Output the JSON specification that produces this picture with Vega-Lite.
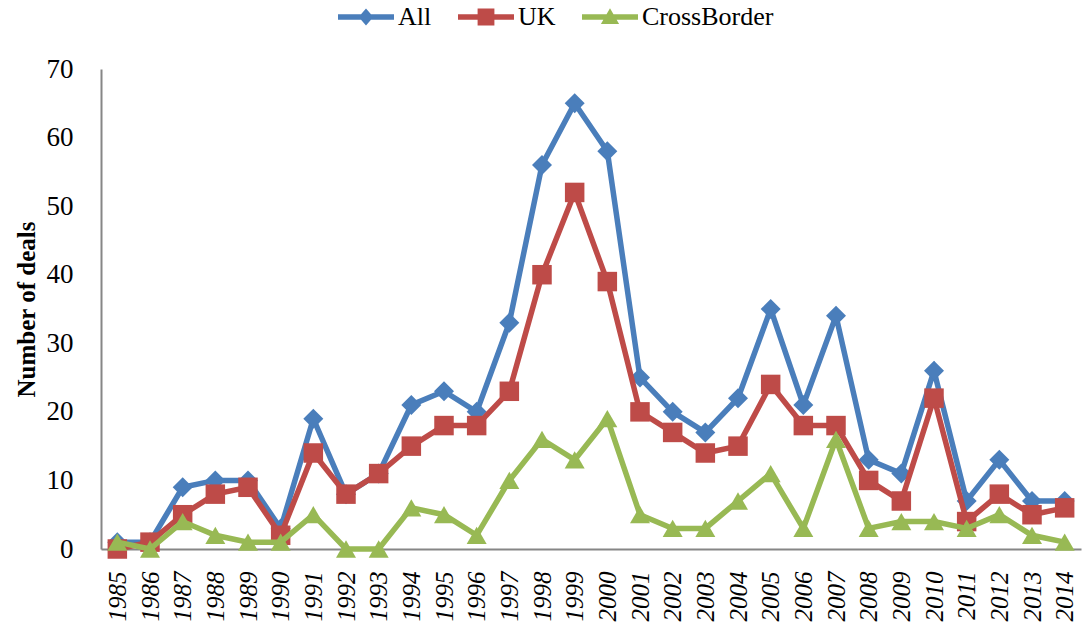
{
  "$schema": "https://vega.github.io/schema/vega-lite/v6.json",
  "width": 1091,
  "height": 631,
  "autosize": {"type": "fit", "contains": "padding"},
  "padding": {"left": 14, "top": 55, "right": 0, "bottom": 10},
  "background": "white",
  "config": {
    "view": {"stroke": null},
    "font": "Liberation Serif",
    "axis": {"grid": false, "ticks": false, "domainColor": "#868686", "domainWidth": 2, "labelFont": "Liberation Serif", "labelColor": "#000000", "titleFont": "Liberation Serif", "titleColor": "#000000"}
  },
  "data": {
    "values": [
      {"year": "1985", "series": "All", "deals": 1}, {"year": "1986", "series": "All", "deals": 1}, {"year": "1987", "series": "All", "deals": 9}, {"year": "1988", "series": "All", "deals": 10}, {"year": "1989", "series": "All", "deals": 10}, {"year": "1990", "series": "All", "deals": 3}, {"year": "1991", "series": "All", "deals": 19}, {"year": "1992", "series": "All", "deals": 8}, {"year": "1993", "series": "All", "deals": 11}, {"year": "1994", "series": "All", "deals": 21}, {"year": "1995", "series": "All", "deals": 23}, {"year": "1996", "series": "All", "deals": 20}, {"year": "1997", "series": "All", "deals": 33}, {"year": "1998", "series": "All", "deals": 56}, {"year": "1999", "series": "All", "deals": 65}, {"year": "2000", "series": "All", "deals": 58}, {"year": "2001", "series": "All", "deals": 25}, {"year": "2002", "series": "All", "deals": 20}, {"year": "2003", "series": "All", "deals": 17}, {"year": "2004", "series": "All", "deals": 22}, {"year": "2005", "series": "All", "deals": 35}, {"year": "2006", "series": "All", "deals": 21}, {"year": "2007", "series": "All", "deals": 34}, {"year": "2008", "series": "All", "deals": 13}, {"year": "2009", "series": "All", "deals": 11}, {"year": "2010", "series": "All", "deals": 26}, {"year": "2011", "series": "All", "deals": 7}, {"year": "2012", "series": "All", "deals": 13}, {"year": "2013", "series": "All", "deals": 7}, {"year": "2014", "series": "All", "deals": 7},
      {"year": "1985", "series": "UK", "deals": 0}, {"year": "1986", "series": "UK", "deals": 1}, {"year": "1987", "series": "UK", "deals": 5}, {"year": "1988", "series": "UK", "deals": 8}, {"year": "1989", "series": "UK", "deals": 9}, {"year": "1990", "series": "UK", "deals": 2}, {"year": "1991", "series": "UK", "deals": 14}, {"year": "1992", "series": "UK", "deals": 8}, {"year": "1993", "series": "UK", "deals": 11}, {"year": "1994", "series": "UK", "deals": 15}, {"year": "1995", "series": "UK", "deals": 18}, {"year": "1996", "series": "UK", "deals": 18}, {"year": "1997", "series": "UK", "deals": 23}, {"year": "1998", "series": "UK", "deals": 40}, {"year": "1999", "series": "UK", "deals": 52}, {"year": "2000", "series": "UK", "deals": 39}, {"year": "2001", "series": "UK", "deals": 20}, {"year": "2002", "series": "UK", "deals": 17}, {"year": "2003", "series": "UK", "deals": 14}, {"year": "2004", "series": "UK", "deals": 15}, {"year": "2005", "series": "UK", "deals": 24}, {"year": "2006", "series": "UK", "deals": 18}, {"year": "2007", "series": "UK", "deals": 18}, {"year": "2008", "series": "UK", "deals": 10}, {"year": "2009", "series": "UK", "deals": 7}, {"year": "2010", "series": "UK", "deals": 22}, {"year": "2011", "series": "UK", "deals": 4}, {"year": "2012", "series": "UK", "deals": 8}, {"year": "2013", "series": "UK", "deals": 5}, {"year": "2014", "series": "UK", "deals": 6},
      {"year": "1985", "series": "CrossBorder", "deals": 1}, {"year": "1986", "series": "CrossBorder", "deals": 0}, {"year": "1987", "series": "CrossBorder", "deals": 4}, {"year": "1988", "series": "CrossBorder", "deals": 2}, {"year": "1989", "series": "CrossBorder", "deals": 1}, {"year": "1990", "series": "CrossBorder", "deals": 1}, {"year": "1991", "series": "CrossBorder", "deals": 5}, {"year": "1992", "series": "CrossBorder", "deals": 0}, {"year": "1993", "series": "CrossBorder", "deals": 0}, {"year": "1994", "series": "CrossBorder", "deals": 6}, {"year": "1995", "series": "CrossBorder", "deals": 5}, {"year": "1996", "series": "CrossBorder", "deals": 2}, {"year": "1997", "series": "CrossBorder", "deals": 10}, {"year": "1998", "series": "CrossBorder", "deals": 16}, {"year": "1999", "series": "CrossBorder", "deals": 13}, {"year": "2000", "series": "CrossBorder", "deals": 19}, {"year": "2001", "series": "CrossBorder", "deals": 5}, {"year": "2002", "series": "CrossBorder", "deals": 3}, {"year": "2003", "series": "CrossBorder", "deals": 3}, {"year": "2004", "series": "CrossBorder", "deals": 7}, {"year": "2005", "series": "CrossBorder", "deals": 11}, {"year": "2006", "series": "CrossBorder", "deals": 3}, {"year": "2007", "series": "CrossBorder", "deals": 16}, {"year": "2008", "series": "CrossBorder", "deals": 3}, {"year": "2009", "series": "CrossBorder", "deals": 4}, {"year": "2010", "series": "CrossBorder", "deals": 4}, {"year": "2011", "series": "CrossBorder", "deals": 3}, {"year": "2012", "series": "CrossBorder", "deals": 5}, {"year": "2013", "series": "CrossBorder", "deals": 2}, {"year": "2014", "series": "CrossBorder", "deals": 1}
    ]
  },
  "encoding": {
    "x": {"field": "year", "type": "ordinal", "title": null,
      "scale": {"type": "point", "padding": 0.5},
      "axis": {"labelAngle": -90, "labelFontStyle": "italic", "labelFontSize": 25, "labelPadding": 22}},
    "y": {"field": "deals", "type": "quantitative", "title": "Number of deals",
      "scale": {"domain": [0, 70], "nice": false},
      "axis": {"values": [0, 10, 20, 30, 40, 50, 60, 70], "labelFontSize": 27, "labelPadding": 28, "titleFontSize": 25, "titleFontWeight": "bold", "titlePadding": 7}}
  },
  "layer": [
    {"transform": [{"filter": "datum.series === 'All'"}], "mark": {"type": "line", "strokeWidth": 5.5, "color": "#4A7EBB"}},
    {"transform": [{"filter": "datum.series === 'All'"}], "mark": {"type": "point", "shape": "diamond", "filled": true, "opacity": 1, "size": 400, "color": "#4A7EBB"}},
    {"transform": [{"filter": "datum.series === 'UK'"}], "mark": {"type": "line", "strokeWidth": 5.5, "color": "#BE4B48"}},
    {"transform": [{"filter": "datum.series === 'UK'"}], "mark": {"type": "point", "shape": "square", "filled": true, "opacity": 1, "size": 380, "color": "#BE4B48"}},
    {"transform": [{"filter": "datum.series === 'CrossBorder'"}], "mark": {"type": "line", "strokeWidth": 5.5, "color": "#98B954"}},
    {"transform": [{"filter": "datum.series === 'CrossBorder'"}], "mark": {"type": "point", "shape": "triangle-up", "filled": true, "opacity": 1, "size": 400, "color": "#98B954"}},
    {
      "mark": {"type": "point", "filled": true, "opacity": 0, "size": 196},
      "encoding": {
        "color": {"field": "series", "type": "nominal",
          "scale": {"domain": ["All", "UK", "CrossBorder"], "range": ["#4A7EBB", "#BE4B48", "#98B954"]},
          "legend": {"orient": "none", "legendX": 231, "legendY": -65, "direction": "horizontal", "title": null, "symbolOpacity": 1, "symbolSize": 196, "symbolOffset": 21, "labelOffset": 19, "labelFont": "Liberation Serif", "labelFontSize": 26, "labelColor": "#000000", "columnPadding": 20}},
        "shape": {"field": "series", "type": "nominal",
          "scale": {"domain": ["All", "UK", "CrossBorder"], "range": [
            "M-4,-0.38H4V0.38H-4Z M0,-1.2L1.05,0L0,1.2L-1.05,0Z",
            "M-4,-0.38H4V0.38H-4Z M-1.2,-1.2H1.2V1.2H-1.2Z",
            "M-4,-0.38H4V0.38H-4Z M0,-1.25L1.3,1L-1.3,1Z"]},
          "legend": {"orient": "none", "legendX": 231, "legendY": -65, "direction": "horizontal", "title": null, "symbolOpacity": 1, "symbolSize": 196, "symbolOffset": 21, "labelOffset": 19, "labelFont": "Liberation Serif", "labelFontSize": 26, "labelColor": "#000000", "columnPadding": 20}}
      }
    }
  ]
}
